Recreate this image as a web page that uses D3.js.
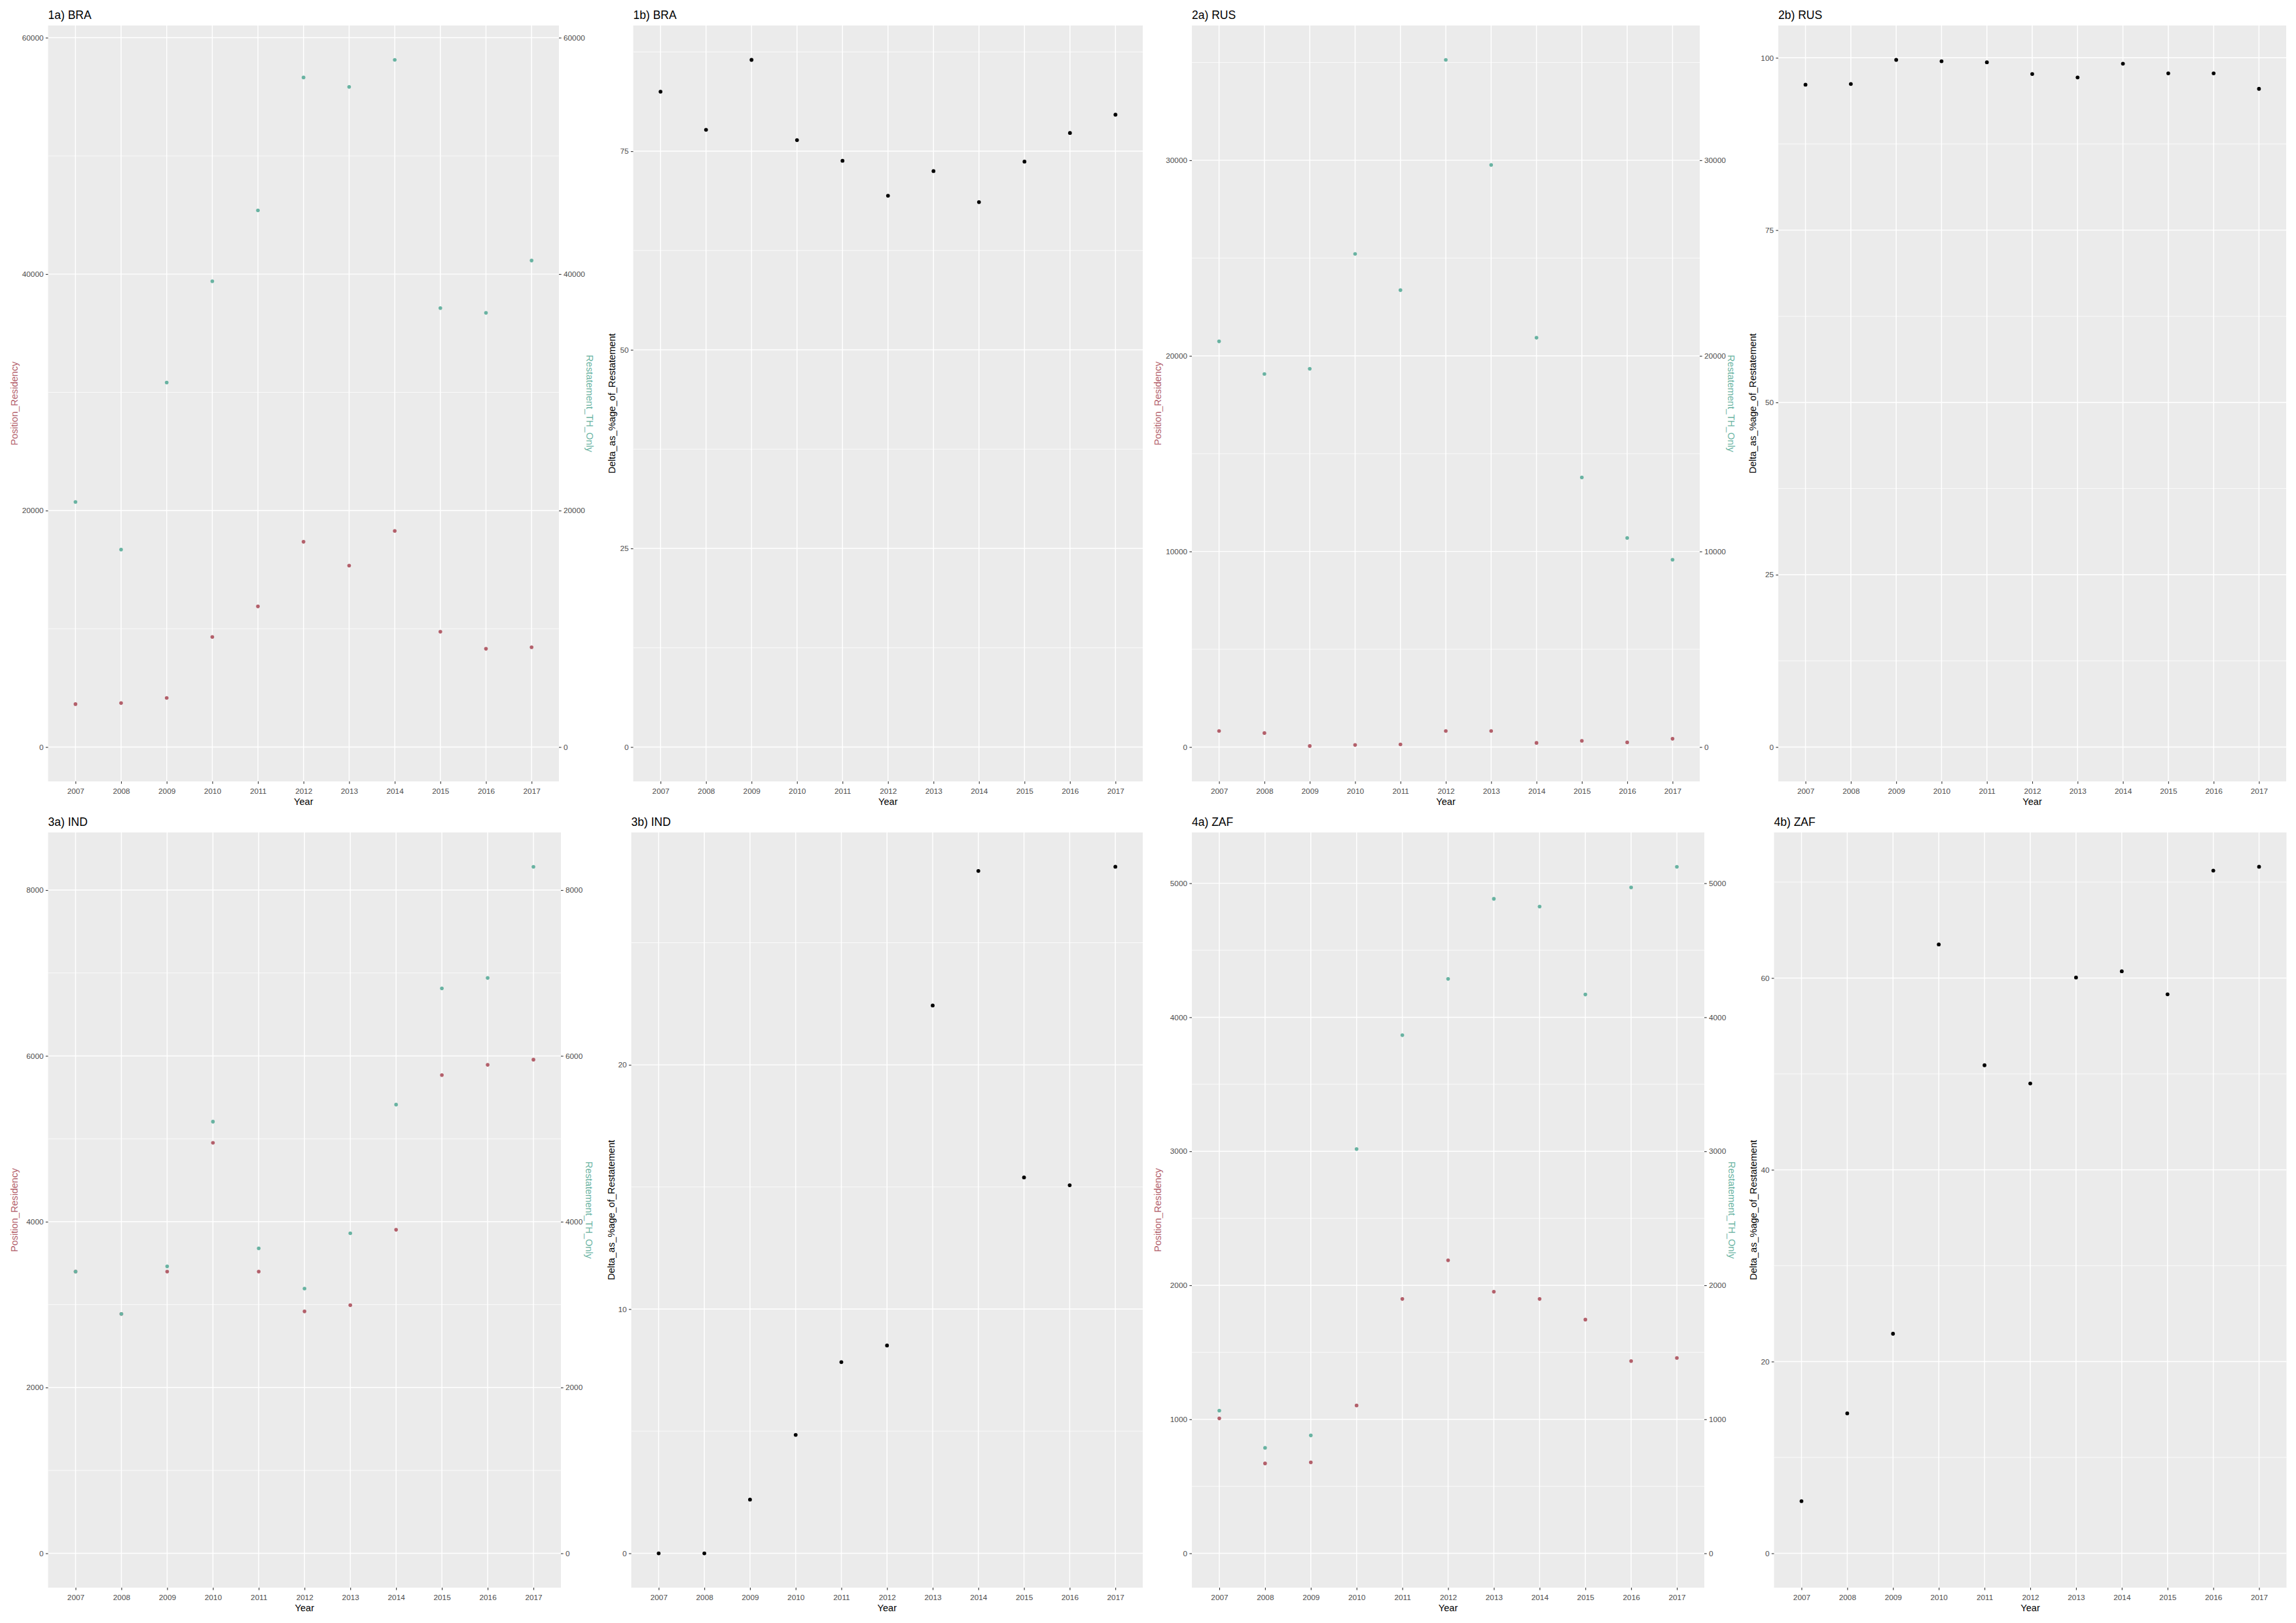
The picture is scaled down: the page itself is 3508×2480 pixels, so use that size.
<!DOCTYPE html>
<html>
<head>
<meta charset="utf-8">
<script src="https://cdn.jsdelivr.net/npm/d3@7"></script>
<style>
  html, body { margin: 0; padding: 0; background: #ffffff; }
  svg { display: block; }
</style>
</head>
<body>
<svg id="chart" width="3508" height="2480"></svg>
<script>
// ---------------- DATA ----------------
const years = [2007, 2008, 2009, 2010, 2011, 2012, 2013, 2014, 2015, 2016, 2017];

const braPosition    = [3630, 3717, 4154, 9315, 11895, 17360, 15350, 18280, 9750, 8310, 8440];
const braRestatement = [20728, 16705, 30830, 39400, 45390, 56630, 55840, 58120, 37130, 36730, 41150];
const braDelta       = [82.5, 77.7, 86.5, 76.4, 73.8, 69.4, 72.5, 68.6, 73.7, 77.3, 79.6];

const rusPosition    = [820, 714, 53, 106, 132, 820, 820, 212, 317, 238, 423];
const rusRestatement = [20741, 19074, 19339, 25211, 23360, 35132, 29762, 20926, 13783, 10688, 9577];
const rusDelta       = [96.1, 96.2, 99.7, 99.5, 99.35, 97.65, 97.15, 99.15, 97.75, 97.75, 95.5];

const indPosition    = [3398, 2887, 3398, 4951, 3398, 2918, 2993, 3903, 5768, 5892, 5955];
const indRestatement = [3398, 2887, 3461, 5207, 3679, 3193, 3860, 5412, 6815, 6940, 8281];
const indDelta       = [0, 0, 2.2, 4.85, 7.83, 8.51, 22.43, 27.94, 15.39, 15.07, 28.11];

const zafPosition    = [1007, 671, 679, 1103, 1898, 2187, 1952, 1898, 1744, 1435, 1458];
const zafRestatement = [1065, 787, 880, 3017, 3866, 4286, 4884, 4826, 4170, 4969, 5123];
const zafDelta       = [5.44, 14.6, 22.9, 63.5, 50.9, 49.0, 60.05, 60.7, 58.3, 71.2, 71.6];

// tick labels
const braValueTicks = [0, 20000, 40000, 60000];
const braDeltaTicks = [0, 25, 50, 75];
const rusValueTicks = [0, 10000, 20000, 30000];
const rusDeltaTicks = [0, 25, 50, 75, 100];
const indValueTicks = [0, 2000, 4000, 6000, 8000];
const indDeltaTicks = [0, 10, 20];
const zafValueTicks = [0, 1000, 2000, 3000, 4000, 5000];
const zafDeltaTicks = [0, 20, 40, 60];

const titles = ["1a) BRA", "1b) BRA", "2a) RUS", "2b) RUS", "3a) IND", "3b) IND", "4a) ZAF", "4b) ZAF"];
const leftTitleA = "Position_Residency";
const rightTitleA = "Restatement_TH_Only";
const leftTitleB = "Delta_as_%age_of_Restatement";
const xTitle = "Year";

// ---------------- STYLE / LAYOUT ----------------
const COL_RED = "#B3606B";
const COL_TEAL = "#69b3a2";
const FONT = "'Liberation Sans', Arial, Helvetica, sans-serif";
const TICK_FS = 11.8, AXIS_FS = 14.6, TITLE_FS = 17.5;
const TICK_LEN = 3.67;

const rows = [{top: 39, bottom: 1194}, {top: 1272, bottom: 2426}];

const panels = [
  {title: titles[0], row: 0, left: 73.5, right: 854, type: "a", pos: braPosition, res: braRestatement, ticks: braValueTicks, ltx: 26.5, rtx: 896},
  {title: titles[1], row: 0, left: 967.5, right: 1746, type: "b", delta: braDelta, ticks: braDeltaTicks, ltx: 940},
  {title: titles[2], row: 0, left: 1821, right: 2597, type: "a", pos: rusPosition, res: rusRestatement, ticks: rusValueTicks, ltx: 1774, rtx: 2640},
  {title: titles[3], row: 0, left: 2717, right: 3493, type: "b", delta: rusDelta, ticks: rusDeltaTicks, ltx: 2682.5},
  {title: titles[4], row: 1, left: 73.5, right: 857, type: "a", pos: indPosition, res: indRestatement, ticks: indValueTicks, ltx: 27, rtx: 895},
  {title: titles[5], row: 1, left: 964.5, right: 1746, type: "b", delta: indDelta, ticks: indDeltaTicks, ltx: 938.5},
  {title: titles[6], row: 1, left: 1821, right: 2604, type: "a", pos: zafPosition, res: zafRestatement, ticks: zafValueTicks, ltx: 1773.5, rtx: 2641},
  {title: titles[7], row: 1, left: 2710.5, right: 3493.5, type: "b", delta: zafDelta, ticks: zafDeltaTicks, ltx: 2684}
];

const svg = d3.select("#chart");
svg.append("rect").attr("width", 3508).attr("height", 2480).attr("fill", "#ffffff");

function drawPanel(p) {
  const top = rows[p.row].top, bottom = rows[p.row].bottom;
  const g = svg.append("g");

  const allVals = p.type === "a" ? p.pos.concat(p.res) : p.delta;
  const lo = 0, hi = d3.max(allVals);
  const pad = 0.05 * (hi - lo);
  const y = d3.scaleLinear().domain([lo - pad, hi + pad]).range([bottom, top]);
  const x = d3.scalePoint().domain(years).range([p.left, p.right]).padding(0.6);

  // panel background
  g.append("rect").attr("x", p.left).attr("y", top)
    .attr("width", p.right - p.left).attr("height", bottom - top)
    .attr("fill", "#EBEBEB");

  // minor grid
  const step = p.ticks[1] - p.ticks[0];
  const minor = [];
  for (let v = p.ticks[0] - step / 2; v <= hi + pad; v += step) {
    if (v >= lo - pad) minor.push(v);
  }
  g.selectAll(".minor").data(minor).enter().append("line")
    .attr("x1", p.left).attr("x2", p.right)
    .attr("y1", d => y(d)).attr("y2", d => y(d))
    .attr("stroke", "#ffffff").attr("stroke-width", 0.75);

  // major grid
  g.selectAll(".majy").data(p.ticks).enter().append("line")
    .attr("x1", p.left).attr("x2", p.right)
    .attr("y1", d => y(d)).attr("y2", d => y(d))
    .attr("stroke", "#ffffff").attr("stroke-width", 1.45);
  g.selectAll(".majx").data(years).enter().append("line")
    .attr("x1", d => x(d)).attr("x2", d => x(d))
    .attr("y1", top).attr("y2", bottom)
    .attr("stroke", "#ffffff").attr("stroke-width", 1.45);

  // points
  if (p.type === "a") {
    g.selectAll(".pr").data(years).enter().append("circle")
      .attr("cx", d => x(d)).attr("cy", (d, i) => y(p.pos[i]))
      .attr("r", 2.8).attr("fill", COL_RED);
    g.selectAll(".pt").data(years).enter().append("circle")
      .attr("cx", d => x(d)).attr("cy", (d, i) => y(p.res[i]))
      .attr("r", 2.8).attr("fill", COL_TEAL);
  } else {
    g.selectAll(".pb").data(years).enter().append("circle")
      .attr("cx", d => x(d)).attr("cy", (d, i) => y(p.delta[i]))
      .attr("r", 2.9).attr("fill", "#000000");
  }

  function styleAxis(ax) {
    ax.select(".domain").remove();
    ax.selectAll(".tick line").attr("stroke", "#333333").attr("stroke-width", 1.1);
    ax.selectAll(".tick text").attr("fill", "#4D4D4D")
      .style("font-family", FONT).style("font-size", TICK_FS + "px");
  }

  // left axis
  const axL = g.append("g").attr("transform", `translate(${p.left},0)`)
    .call(d3.axisLeft(y).tickValues(p.ticks).tickSize(TICK_LEN).tickPadding(3.3).tickFormat(d3.format("d")));
  styleAxis(axL);

  // right axis (secondary, identity)
  if (p.type === "a") {
    const axR = g.append("g").attr("transform", `translate(${p.right},0)`)
      .call(d3.axisRight(y).tickValues(p.ticks).tickSize(TICK_LEN).tickPadding(3.3).tickFormat(d3.format("d")));
    styleAxis(axR);
  }

  // bottom axis
  const axB = g.append("g").attr("transform", `translate(0,${bottom})`)
    .call(d3.axisBottom(x).tickSize(TICK_LEN).tickFormat(d3.format("d")));
  styleAxis(axB);
  axB.selectAll(".tick text").attr("y", 19.3).attr("dy", null);

  // x title
  g.append("text").attr("x", (p.left + p.right) / 2).attr("y", bottom + 35.5)
    .attr("text-anchor", "middle").attr("fill", "#000000")
    .style("font-family", FONT).style("font-size", AXIS_FS + "px").text(xTitle);

  // plot title
  g.append("text").attr("x", p.left).attr("y", top - 10)
    .attr("fill", "#000000")
    .style("font-family", FONT).style("font-size", TITLE_FS + "px").text(p.title);

  // y titles
  const midY = (top + bottom) / 2;
  g.append("text")
    .attr("transform", `translate(${p.ltx},${midY}) rotate(-90)`)
    .attr("text-anchor", "middle")
    .attr("fill", p.type === "a" ? COL_RED : "#000000")
    .style("font-family", FONT).style("font-size", AXIS_FS + "px")
    .text(p.type === "a" ? leftTitleA : leftTitleB);
  if (p.type === "a") {
    g.append("text")
      .attr("transform", `translate(${p.rtx},${midY}) rotate(90)`)
      .attr("text-anchor", "middle")
      .attr("fill", COL_TEAL)
      .style("font-family", FONT).style("font-size", AXIS_FS + "px")
      .text(rightTitleA);
  }
}

panels.forEach(drawPanel);
</script>
</body>
</html>
